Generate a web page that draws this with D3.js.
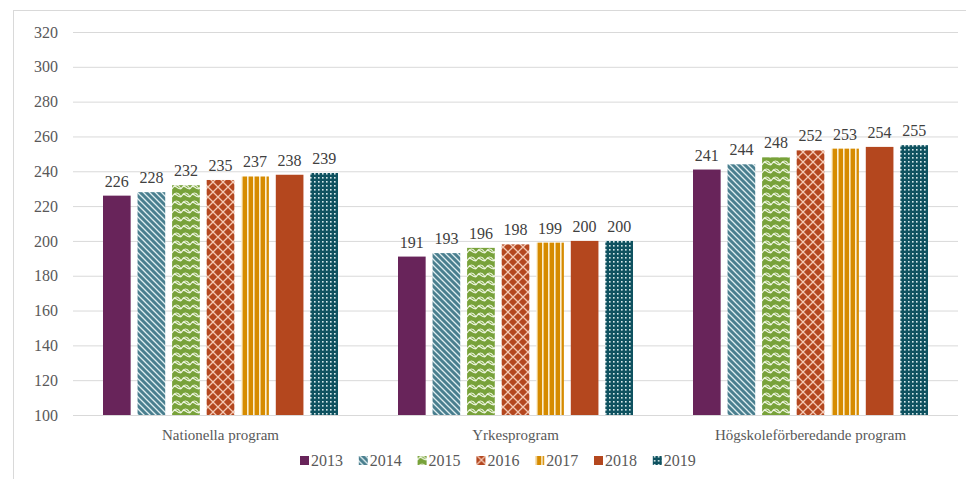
<!DOCTYPE html>
<html>
<head>
<meta charset="utf-8">
<script src="https://cdn.jsdelivr.net/npm/d3@7"></script>
<style>
body { margin: 0; background: #fff; }
</style>
</head>
<body>
<svg id="chart" width="966" height="479"></svg>
<script>

var categories = ["Nationella program", "Yrkesprogram", "Högskoleförberedande program"];
var years = ["2013", "2014", "2015", "2016", "2017", "2018", "2019"];
var values2013 = [226, 191, 241];
var values2014 = [228, 193, 244];
var values2015 = [232, 196, 248];
var values2016 = [235, 198, 252];
var values2017 = [237, 199, 253];
var values2018 = [238, 200, 254];
var values2019 = [239, 200, 255];
var yTicks = [100, 120, 140, 160, 180, 200, 220, 240, 260, 280, 300, 320];

var series = [values2013, values2014, values2015, values2016, values2017, values2018, values2019];

var FONT = "'Liberation Serif'";

var margin = {top: 32, right: 8, bottom: 64, left: 73},
width = 966 - margin.left - margin.right,
height = 479 - margin.top - margin.bottom;

var svg = d3.select("#chart");

// outer frame
svg.append("rect")
.attr("x", 13.5).attr("y", 10.5)
.attr("width", 980).attr("height", 500)
.attr("fill", "none")
.attr("stroke", "#d9d9d9");

var defs = svg.append("defs");

function pat(id, w, h, bg) {
    var p = defs.append("pattern")
    .attr("id", id)
    .attr("patternUnits", "userSpaceOnUse")
    .attr("width", w).attr("height", h);
    p.append("rect").attr("width", w).attr("height", h).attr("fill", bg);
    return p;
}

// 2014 diagonal stripes
var p14 = pat("p2014", 6, 6, "#4A7F8F");
p14.append("path").attr("d", "M-1,-1 L7,7 M-4,2 L2,8 M4,-2 L8,2")
.attr("stroke", "#dfeef0").attr("stroke-width", 1.3);

// 2015 zigzag
var p15 = pat("p2015", 9, 8, "#78A23A");
p15.append("path").attr("d", "M0,5 Q2.25,1 4.5,3 Q6.75,5 9,5 M0,5 Q2.25,1 4.5,1 Q6.75,1 9,5")
.attr("fill", "none").attr("stroke", "#eef5e0").attr("stroke-width", 1.2);

// 2016 diamond lattice
var p16 = pat("p2016", 10, 10, "#B4471F");
p16.append("path").attr("d", "M0,0 L10,10 M10,0 L0,10")
.attr("stroke", "#f3c8b4").attr("stroke-width", 1.3);

// 2017 vertical stripes
var p17 = pat("p2017", 6, 6, "#D68B00");
p17.append("rect").attr("x", 0).attr("width", 1.6).attr("height", 6).attr("fill", "#fbeed0");

// 2019 dots
var p19 = pat("p2019", 4, 4, "#0F5260");
p19.append("rect").attr("x", 1).attr("y", 1).attr("width", 1.6).attr("height", 1.6).attr("fill", "#d8eaec");

var fills = ["#68245A", "url(#p2014)", "url(#p2015)", "url(#p2016)", "url(#p2017)", "#B4471E", "url(#p2019)"];

var x0 = d3.scaleBand().domain(categories).range([0, width]);
var x1 = d3.scaleBand().domain(years).range([30, x0.bandwidth() - 30]).paddingInner(0.2);
var y = d3.scaleLinear().domain([100, 320]).range([height, 0]);

var g = svg.append("g")
.attr("transform", "translate(" + margin.left + "," + margin.top + ")");

// grid
g.append("g")
.call(d3.axisLeft(y).tickValues(yTicks).tickSize(-width).tickFormat(""))
.call(function(s) { s.select(".domain").remove(); })
.selectAll("line")
.attr("stroke", "#d9d9d9");

// y labels
g.append("g")
.selectAll("text")
.data(yTicks)
.enter().append("text")
.attr("x", -15)
.attr("y", function(d) { return y(d); })
.attr("dy", "0.35em")
.attr("text-anchor", "end")
.attr("fill", "#595959")
.style("font-family", FONT)
.style("font-size", "16px")
.text(function(d) { return d; });

// bars
var groups = g.selectAll(".grp")
.data(categories)
.enter().append("g")
.attr("transform", function(d) { return "translate(" + x0(d) + ",0)"; });

groups.each(function(c, ci) {
    var rows = years.map(function(yr, i) { return {year: yr, i: i, v: series[i][ci]}; });
    var sel = d3.select(this);
    sel.selectAll("rect")
    .data(rows)
    .enter().append("rect")
    .attr("x", function(d) { return x1(d.year); })
    .attr("y", function(d) { return y(d.v); })
    .attr("width", x1.bandwidth())
    .attr("height", function(d) { return height - y(d.v); })
    .attr("fill", function(d) { return fills[d.i]; });
    sel.selectAll(".lbl")
    .data(rows)
    .enter().append("text")
    .attr("x", function(d) { return x1(d.year) + x1.bandwidth() / 2; })
    .attr("y", function(d) { return y(d.v) - 9; })
    .attr("text-anchor", "middle")
    .attr("fill", "#404040")
    .style("font-family", FONT)
    .style("font-size", "16px")
    .text(function(d) { return d.v; });
});

// bottom axis line
g.append("line")
.attr("x1", 0).attr("x2", width)
.attr("y1", height + 0.5).attr("y2", height + 0.5)
.attr("stroke", "#d9d9d9");

// category labels
g.selectAll(".cat")
.data(categories)
.enter().append("text")
.attr("x", function(d) { return x0(d) + x0.bandwidth() / 2; })
.attr("y", height + 25)
.attr("text-anchor", "middle")
.attr("fill", "#595959")
.style("font-family", FONT)
.style("font-size", "15px")
.text(function(d) { return d; });

// legend
var legend = svg.append("g")
.attr("transform", "translate(300,455)");

var item = legend.selectAll("g")
.data(years)
.enter().append("g")
.attr("transform", function(d, i) { return "translate(" + (i * 58.8) + ",0)"; });

item.append("rect")
.attr("width", 9).attr("height", 9)
.attr("y", 1)
.attr("fill", function(d, i) { return fills[i]; });

item.append("text")
.attr("x", 11)
.attr("y", 10.5)
.attr("fill", "#595959")
.style("font-family", FONT)
.style("font-size", "16px")
.text(function(d) { return d; });
</script>
</body>
</html>
